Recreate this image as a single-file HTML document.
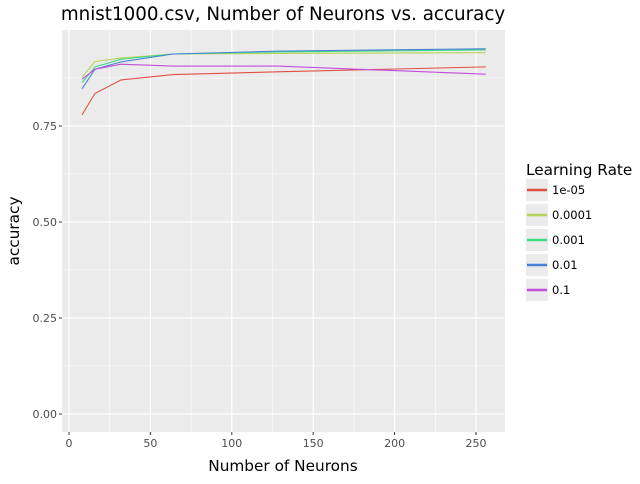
<!DOCTYPE html>
<html><head><meta charset="utf-8"><style>
body{margin:0;background:#fff;font-family:"DejaVu Sans",sans-serif}
</style></head><body>
<svg width="640" height="480" xmlns="http://www.w3.org/2000/svg" font-family="DejaVu Sans, sans-serif">
<text x="283" y="20" font-size="18.3" text-anchor="middle" fill="#000">mnist1000.csv, Number of Neurons vs. accuracy</text>
<rect x="62" y="30" width="443" height="402" fill="#ebebeb"/>
<g id="grid"></g><g id="series"></g><g id="axes"></g>
<text x="283" y="471" font-size="15.3" text-anchor="middle">Number of Neurons</text>
<text transform="translate(19,231) rotate(-90)" font-size="15.3" text-anchor="middle">accuracy</text>
<text x="526" y="175" font-size="15.3">Learning Rate</text>
<g id="legend"></g>
</svg>
<script>
const neurons=[8,16,32,64,128,256];
const rates=["1e-05","0.0001","0.001","0.01","0.1"];
const s1e5=[0.779,0.835,0.870,0.884,0.891,0.904];
const s1e4=[0.878,0.918,0.927,0.9375,0.939,0.941];
const s1e3=[0.863,0.904,0.924,0.9375,0.943,0.948];
const s1e2=[0.847,0.898,0.917,0.9375,0.945,0.951];
const s1e1=[0.872,0.898,0.911,0.906,0.906,0.885];
const xTicks=[0,50,100,150,200,250];
const yTicks=[0,0.25,0.5,0.75];
const yLabels=["0.00","0.25","0.50","0.75"];
const series=[s1e5,s1e4,s1e3,s1e2,s1e1];
const colors=["#e24f44","#b6d45a","#3ddc84","#4a80d8","#c04fdd"];
const NS="http://www.w3.org/2000/svg";
const X=v=>69+v*1.628, Y=v=>414-v*384;
function mk(t,a,p){const e=document.createElementNS(NS,t);for(const k in a)e.setAttribute(k,a[k]);p.appendChild(e);return e;}
const g=document.getElementById('grid'),ax=document.getElementById('axes'),sg=document.getElementById('series'),lg=document.getElementById('legend');
[25,75,125,175,225].forEach(v=>{const l=mk('line',{x1:X(v),x2:X(v),y1:30,y2:432,stroke:'#fff','stroke-width':0.6},g);});
[0.125,0.375,0.625,0.875].forEach(v=>{const l=mk('line',{x1:62,x2:505,y1:Y(v),y2:Y(v),stroke:'#fff','stroke-width':0.6},g);});
xTicks.forEach(v=>{const l=mk('line',{x1:X(v),x2:X(v),y1:30,y2:432,stroke:'#fff','stroke-width':1.2},g);
mk('line',{x1:X(v),x2:X(v),y1:432,y2:435,stroke:'#333'},ax);
const t=mk('text',{x:X(v),y:447,'font-size':11,'text-anchor':'middle',fill:'#4d4d4d'},ax);t.textContent=v;});
yTicks.forEach((v,i)=>{const l=mk('line',{x1:62,x2:505,y1:Y(v),y2:Y(v),stroke:'#fff','stroke-width':1.2},g);
mk('line',{x1:59,x2:62,y1:Y(v),y2:Y(v),stroke:'#333'},ax);
const t=mk('text',{x:57,y:Y(v)+4,'font-size':11,'text-anchor':'end',fill:'#4d4d4d'},ax);t.textContent=yLabels[i];});
series.forEach((s,i)=>{const p=mk('polyline',{points:s.map((v,j)=>X(neurons[j])+','+Y(v)).join(' '),fill:'none',stroke:colors[i],'stroke-width':1.1},sg);

const y=190+i*25;const r=mk('rect',{x:526,y:y-11,width:22,height:22,fill:'#ebebeb'},lg);
mk('line',{x1:527,x2:547,y1:y,y2:y,stroke:colors[i],'stroke-width':2.5},lg);
const t=mk('text',{x:552,y:y+4,'font-size':11.5},lg);t.textContent=rates[i];});
</script>
</body></html>
